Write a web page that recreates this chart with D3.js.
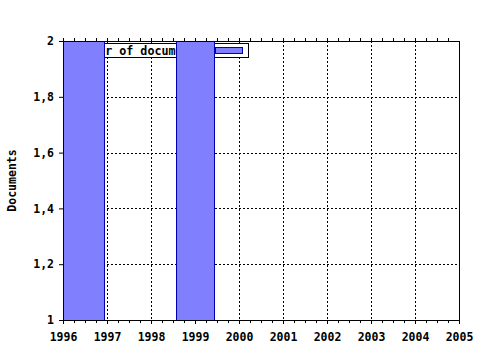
<!DOCTYPE html>
<html>
<head>
<meta charset="utf-8">
<script src="https://cdn.jsdelivr.net/npm/d3@7"></script>
<style>
  body { margin: 0; background: #fff; }
  text { font-family: "DejaVu Sans Mono", monospace; font-weight: bold; font-size: 11.5px; fill: #000; }
</style>
</head>
<body>
<svg id="chart" width="480" height="350"></svg>
<script>
// data
var years = [1996, 1997, 1998, 1999, 2000, 2001, 2002, 2003, 2004, 2005]
var yTicks = [1, 1.2, 1.4, 1.6, 1.8, 2]
var barStart = [1996, 1998.57]
var barEnd = [1996.94, 1999.45]
var barValue = [2, 2]
var seriesName = 'Number of documents'
var yLabel = 'Documents'

var margin = { left: 63, right: 21, top: 41, bottom: 30 }
var W = 480, H = 350

var svg = d3.select('#chart')

var x = d3.scaleLinear().domain([1996, 2005]).range([margin.left, W - margin.right])
var y = d3.scaleLinear().domain([1, 2]).range([H - margin.bottom, margin.top])

var fmt = function (d) { return String(d).replace('.', ',') }

/* ===== grid ===== */
var grid = svg.append('g')
  .attr('stroke', '#000')
  .attr('stroke-dasharray', '2,2')
  .attr('shape-rendering', 'crispEdges')

grid.selectAll('line.v')
  .data(years.slice(1, -1))
  .join('line')
  .attr('x1', d => Math.round(x(d)) + 0.5).attr('x2', d => Math.round(x(d)) + 0.5)
  .attr('y1', y(2)).attr('y2', y(1))

grid.selectAll('line.h')
  .data(yTicks.slice(1, -1))
  .join('line')
  .attr('y1', d => Math.round(y(d)) + 0.5).attr('y2', d => Math.round(y(d)) + 0.5)
  .attr('x1', x(1996)).attr('x2', x(2005))

/* ===== legend (drawn under the bars) ===== */
var lg = svg.append('g').attr('shape-rendering', 'crispEdges')
lg.append('rect')
  .attr('x', 66.5).attr('y', 43.5).attr('width', 182).attr('height', 14)
  .attr('fill', '#fff').attr('stroke', '#000')
lg.append('text')
  .attr('x', 70).attr('y', 54.5)
  .style('font-size', '11.7px')
  .text(seriesName)
lg.append('rect')
  .attr('x', 215.5).attr('y', 47.5).attr('width', 27).attr('height', 6)
  .attr('fill', '#8080ff').attr('stroke', '#0000b0')

/* ===== bars ===== */
svg.append('g')
  .attr('shape-rendering', 'crispEdges')
  .selectAll('rect')
  .data(barValue)
  .join('rect')
  .attr('x', (d, i) => x(barStart[i]))
  .attr('width', (d, i) => x(barEnd[i]) - x(barStart[i]))
  .attr('y', d => y(d))
  .attr('height', d => y(1) - y(d))
  .attr('fill', '#8080ff')
  .attr('stroke', '#0000b0')

/* ===== frame and axes ===== */
var minor = d3.range(0, 36).map(i => 1996 + i / 4)

var xAxis = d3.axisBottom(x).tickValues(years).tickFormat(d3.format('d')).tickSize(4).tickPadding(9)
var gx = svg.append('g')
  .attr('transform', `translate(0,${y(1)})`)
  .call(xAxis)
gx.select('.domain').remove()

svg.append('g')
  .attr('transform', `translate(0,${y(1)})`)
  .call(d3.axisBottom(x).tickValues(minor).tickSize(3).tickFormat(''))
  .select('.domain').remove()

svg.append('g')
  .attr('transform', `translate(0,${y(2)})`)
  .call(d3.axisTop(x).tickValues(minor).tickSize(3).tickFormat(''))
  .select('.domain').remove()

var gy = svg.append('g')
  .attr('transform', `translate(${x(1996)},0)`)
  .call(d3.axisLeft(y).tickValues(yTicks).tickFormat(fmt).tickSize(4).tickPadding(5))
gy.select('.domain').remove()

svg.selectAll('.tick text')
  .attr('font-family', null).attr('font-size', null)
svg.selectAll('.tick line').attr('stroke', '#000')

svg.append('g')
  .attr('fill', 'none')
  .attr('stroke', '#000')
  .attr('shape-rendering', 'crispEdges')
  .selectAll('line')
  .data([
    [x(1996), y(1), x(2005), y(1)],
    [x(1996), y(2), x(2005), y(2)],
    [x(1996), y(1), x(1996), y(2)],
    [x(2005), y(1), x(2005), y(2)]
  ])
  .join('line')
  .attr('x1', d => d[0]).attr('y1', d => d[1])
  .attr('x2', d => d[2]).attr('y2', d => d[3])

svg.append('text')
  .attr('transform', `translate(16,${(y(1) + y(2)) / 2}) rotate(-90)`)
  .attr('text-anchor', 'middle')
  .text(yLabel)
</script>
</body>
</html>
